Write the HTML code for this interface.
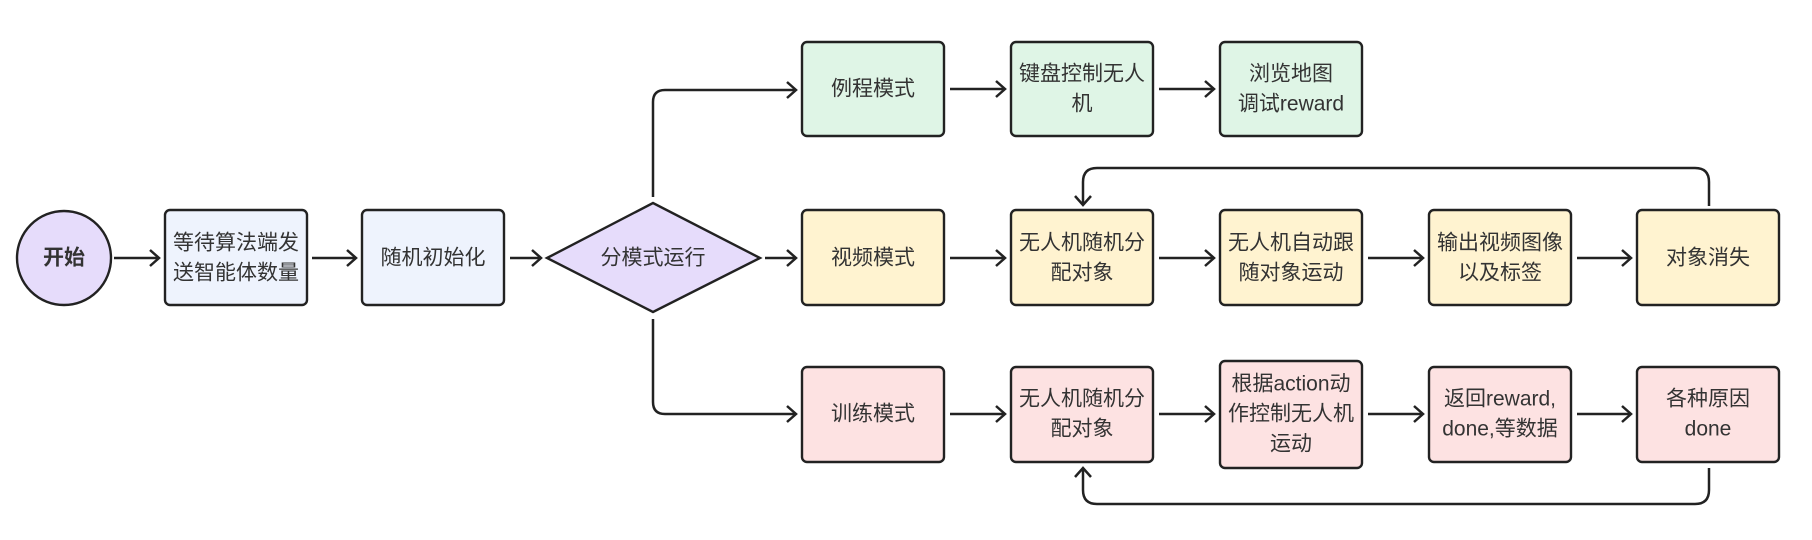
<!DOCTYPE html>
<html><head><meta charset="utf-8"><style>
html,body{margin:0;padding:0;background:#fff;}
svg{display:block;}
text{font-family:"Liberation Sans","Noto Sans CJK SC",sans-serif;font-size:21px;fill:#333;text-anchor:middle;dominant-baseline:central;}
.b{stroke:#222;stroke-width:2.4;}
.l{fill:none;stroke:#222;stroke-width:2.5;}
</style></head><body>
<svg width="1812" height="540" viewBox="0 0 1812 540" xmlns="http://www.w3.org/2000/svg">
<defs><marker id="a" markerWidth="14" markerHeight="18" refX="11" refY="9" orient="auto" markerUnits="userSpaceOnUse"><path d="M2,1 L11,9 L2,17" fill="none" stroke="#222" stroke-width="2.5"/></marker></defs>
<circle cx="64" cy="258" r="47" fill="#e6dcfb" class="b"/>
<text x="64" y="258" style="font-weight:bold">开始</text>
<rect x="165" y="210" width="142" height="95" rx="5" fill="#eef3fd" class="b"/>
<text x="236" y="243">等待算法端发</text><text x="236" y="273">送智能体数量</text>
<rect x="362" y="210" width="142" height="95" rx="5" fill="#eef3fd" class="b"/>
<text x="433" y="258">随机初始化</text>
<polygon points="547,258 653,203 760,258 653,312" fill="#e6dcfb" class="b"/>
<text x="653" y="258">分模式运行</text>
<path class="l" d="M114,258 H159" marker-end="url(#a)"/>
<path class="l" d="M312,258 H356" marker-end="url(#a)"/>
<path class="l" d="M510,258 H541" marker-end="url(#a)"/>
<path class="l" d="M765,258 H796" marker-end="url(#a)"/>
<path class="l" d="M653,197 V102 Q653,90 665,90 H796" marker-end="url(#a)"/>
<path class="l" d="M653,319 V402 Q653,414 665,414 H796" marker-end="url(#a)"/>
<rect x="802" y="42" width="142" height="94" rx="5" fill="#dff5e6" class="b"/><text x="873" y="89">例程模式</text>
<rect x="1011" y="42" width="142" height="94" rx="5" fill="#dff5e6" class="b"/><text x="1082" y="74">键盘控制无人</text><text x="1082" y="104">机</text>
<rect x="1220" y="42" width="142" height="94" rx="5" fill="#dff5e6" class="b"/><text x="1291" y="74">浏览地图</text><text x="1291" y="104">调试reward</text>
<path class="l" d="M950,89 H1005" marker-end="url(#a)"/>
<path class="l" d="M1159,89 H1214" marker-end="url(#a)"/>
<rect x="802" y="210" width="142" height="95" rx="5" fill="#fff3d0" class="b"/><text x="873" y="258">视频模式</text>
<rect x="1011" y="210" width="142" height="95" rx="5" fill="#fff3d0" class="b"/><text x="1082" y="243">无人机随机分</text><text x="1082" y="273">配对象</text>
<rect x="1220" y="210" width="142" height="95" rx="5" fill="#fff3d0" class="b"/><text x="1291" y="243">无人机自动跟</text><text x="1291" y="273">随对象运动</text>
<rect x="1429" y="210" width="142" height="95" rx="5" fill="#fff3d0" class="b"/><text x="1500" y="243">输出视频图像</text><text x="1500" y="273">以及标签</text>
<rect x="1637" y="210" width="142" height="95" rx="5" fill="#fff3d0" class="b"/><text x="1708" y="258">对象消失</text>
<path class="l" d="M950,258 H1005" marker-end="url(#a)"/>
<path class="l" d="M1159,258 H1214" marker-end="url(#a)"/>
<path class="l" d="M1368,258 H1423" marker-end="url(#a)"/>
<path class="l" d="M1577,258 H1631" marker-end="url(#a)"/>
<path class="l" d="M1709,206 V182 Q1709,168 1695,168 H1097 Q1083,168 1083,182 V205" marker-end="url(#a)"/>
<rect x="802" y="367" width="142" height="95" rx="5" fill="#fde2e2" class="b"/><text x="873" y="414">训练模式</text>
<rect x="1011" y="367" width="142" height="95" rx="5" fill="#fde2e2" class="b"/><text x="1082" y="399">无人机随机分</text><text x="1082" y="429">配对象</text>
<rect x="1220" y="361" width="142" height="107" rx="5" fill="#fde2e2" class="b"/><text x="1291" y="384">根据action动</text><text x="1291" y="414">作控制无人机</text><text x="1291" y="444">运动</text>
<rect x="1429" y="367" width="142" height="95" rx="5" fill="#fde2e2" class="b"/><text x="1500" y="399">返回reward,</text><text x="1500" y="429">done,等数据</text>
<rect x="1637" y="367" width="142" height="95" rx="5" fill="#fde2e2" class="b"/><text x="1708" y="399">各种原因</text><text x="1708" y="429">done</text>
<path class="l" d="M950,414 H1005" marker-end="url(#a)"/>
<path class="l" d="M1159,414 H1214" marker-end="url(#a)"/>
<path class="l" d="M1368,414 H1423" marker-end="url(#a)"/>
<path class="l" d="M1577,414 H1631" marker-end="url(#a)"/>
<path class="l" d="M1709,468 V490 Q1709,504 1695,504 H1097 Q1083,504 1083,490 V468" marker-end="url(#a)"/>
</svg>
</body></html>
